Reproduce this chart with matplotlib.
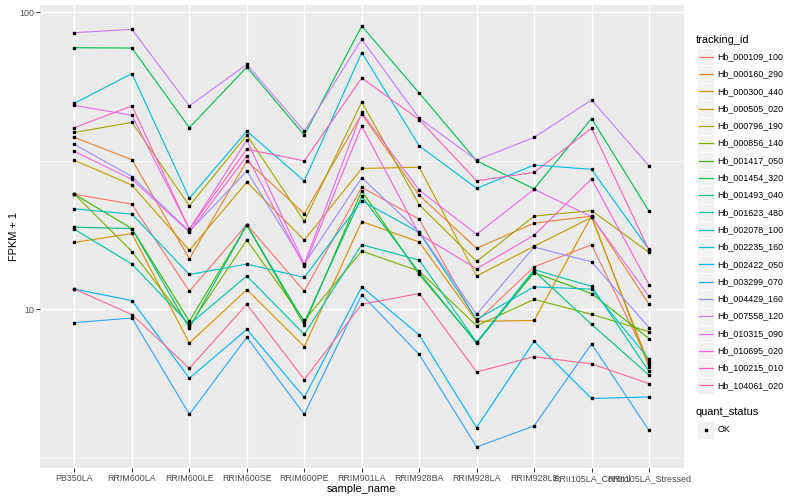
import numpy as np
import matplotlib
matplotlib.use("Agg")
import matplotlib.pyplot as plt
from matplotlib.ticker import FixedLocator, NullFormatter, FixedFormatter
from matplotlib.patches import Rectangle

plt.rcParams['font.family'] = ['Liberation Sans', 'DejaVu Sans']

samples = ["PB350LA", "RRIM600LA", "RRIM600LE", "RRIM600SE", "RRIM600PE",
           "RRIM901LA", "RRIM928BA", "RRIM928LA", "RRIM928LE",
           "RRII105LA_Control", "RRII105LA_Stressed"]

tracking_ids = ["Hb_000109_100", "Hb_000160_290", "Hb_000300_440", "Hb_000505_020",
                "Hb_000796_190", "Hb_000856_140", "Hb_001417_050", "Hb_001454_320",
                "Hb_001493_040", "Hb_001623_480", "Hb_002078_100", "Hb_002235_160",
                "Hb_002422_050", "Hb_003299_070", "Hb_004429_160", "Hb_007558_120",
                "Hb_010315_090", "Hb_010695_020", "Hb_100215_010", "Hb_104061_020"]

colors = ["#F8766D", "#EA8331", "#D89000", "#C09B00", "#A3A500", "#7CAE00",
          "#39B600", "#00BB4E", "#00BF7D", "#00C1A3", "#00BFC4", "#00BAE0",
          "#00B0F6", "#35A2FF", "#9590FF", "#C77CFF", "#E76BF3", "#FA62DB",
          "#FF62BC", "#FF6C91"]

# FPKM + 1 values per tracking_id, in sample order
Hb_000109_100 = [24.4, 22.6, 11.5, 19.3, 11.5, 25.75, 20.1, 9.11, 13.9, 16.5, 6.63]
Hb_000160_290 = [37.9, 31.9, 14.8, 31.6, 21.0, 45.4, 24.2, 16.05, 19.5, 20.6, 10.4]
Hb_000300_440 = [16.8, 18.0, 7.7, 11.65, 7.49, 19.75, 16.85, 9.11, 9.17, 20.6, 6.38]
Hb_000505_020 = [31.75, 26.2, 15.8, 26.8, 17.1, 29.8, 30.1, 12.95, 16.3, 20.4, 6.53]
Hb_000796_190 = [39.4, 42.6, 22.3, 38.6, 19.8, 49.9, 22.5, 14.5, 20.6, 21.5, 15.55]
Hb_000856_140 = [24.4, 15.65, 8.78, 17.1, 9.17, 15.7, 13.45, 8.8, 10.8, 9.62, 8.41]
Hb_001417_050 = [24.4, 18.7, 9.11, 19.2, 8.85, 25.05, 13.1, 7.74, 13.3, 11.3, 7.97]
Hb_001454_320 = [76.0, 75.8, 40.9, 65.4, 38.6, 89.9, 53.5, 31.6, 25.45, 43.9, 21.4]
Hb_001493_040 = [18.9, 18.7, 8.64, 19.25, 9.04, 24.0, 13.3, 7.68, 13.45, 8.9, 6.0]
Hb_001623_480 = [18.6, 14.2, 8.9, 12.95, 8.24, 16.5, 14.65, 7.74, 13.6, 11.95, 6.18]
Hb_002078_100 = [21.8, 20.9, 13.1, 14.2, 12.8, 23.2, 18.15, 9.25, 11.9, 11.7, 6.79]
Hb_002235_160 = [49.4, 62.2, 23.65, 39.8, 27.05, 73.2, 35.5, 25.55, 30.6, 29.6, 15.9]
Hb_002422_050 = [11.7, 10.7, 5.86, 8.56, 5.05, 11.9, 8.2, 4.0, 7.8, 5.01, 5.07]
Hb_003299_070 = [9.02, 9.35, 4.43, 8.05, 4.43, 11.2, 7.05, 3.44, 4.05, 7.65, 3.91]
Hb_004429_160 = [35.9, 28.0, 18.3, 29.2, 14.2, 27.75, 18.2, 9.62, 16.2, 14.45, 8.68]
Hb_007558_120 = [85.4, 87.6, 48.4, 66.8, 39.8, 81.1, 44.0, 31.8, 37.9, 50.7, 30.4]
Hb_010315_090 = [48.6, 45.0, 18.6, 37.1, 14.2, 46.0, 25.2, 17.9, 25.35, 20.5, 11.06]
Hb_010695_020 = [34.0, 27.4, 18.2, 32.8, 13.95, 41.4, 17.9, 13.7, 17.75, 27.5, 12.1]
Hb_100215_010 = [40.9, 48.4, 18.6, 34.6, 31.6, 60.1, 43.5, 27.1, 28.9, 40.7, 15.8]
Hb_104061_020 = [11.7, 9.6, 6.33, 10.4, 5.8, 10.4, 11.3, 6.15, 6.93, 6.55, 5.62]

series = [Hb_000109_100, Hb_000160_290, Hb_000300_440, Hb_000505_020, Hb_000796_190,
          Hb_000856_140, Hb_001417_050, Hb_001454_320, Hb_001493_040, Hb_001623_480,
          Hb_002078_100, Hb_002235_160, Hb_002422_050, Hb_003299_070, Hb_004429_160,
          Hb_007558_120, Hb_010315_090, Hb_010695_020, Hb_100215_010, Hb_104061_020]

quant_status = ["OK"]

W, H = 800, 500
fig = plt.figure(figsize=(W / 100, H / 100), dpi=100)
fig.patch.set_facecolor("white")
pl, pr, pt, pb = 40, 683.5, 5, 468
ax = fig.add_axes([pl / W, 1 - pb / H, (pr - pl) / W, (pb - pt) / H])
ax.set_facecolor("#EBEBEB")
for s in ax.spines.values():
    s.set_visible(False)

x = np.arange(1, len(samples) + 1)
for vals, col in zip(series, colors):
    ax.plot(x, vals, color=col, lw=0.8, zorder=3, solid_capstyle="butt")
for vals in series:
    ax.plot(x, vals, ls="none", marker="s", ms=2.1, color="black", zorder=4)

ax.set_yscale("log")
allv = np.log10(np.concatenate([np.array(v) for v in series]))
lo, hi = allv.min(), allv.max()
ex = 0.05 * (hi - lo)
ax.set_ylim(10 ** (lo - ex), 10 ** (hi + ex))
ax.set_xlim(0.4, len(samples) + 0.6)

ax.yaxis.set_major_locator(FixedLocator([10, 100]))
ax.yaxis.set_major_formatter(FixedFormatter(["10", "100"]))
ax.yaxis.set_minor_locator(FixedLocator([10 ** 0.5, 10 ** 1.5]))
ax.yaxis.set_minor_formatter(NullFormatter())
ax.set_xticks(x)
ax.set_xticklabels(samples)
ax.tick_params(axis="both", which="major", length=2.8, width=0.7, color="#333333",
               labelcolor="#4D4D4D", labelsize=6.4, pad=1.5)
ax.tick_params(axis="y", which="minor", length=0)
ax.grid(which="major", color="white", lw=1.0, zorder=0)
ax.grid(which="minor", axis="y", color="white", lw=0.5, zorder=0)
ax.set_axisbelow(True)

ax.set_xlabel("sample_name", fontsize=7.9, labelpad=1)
ax.set_ylabel("FPKM + 1", fontsize=7.9, labelpad=0)

# legend drawn in pixel coordinates
lg = fig.add_axes([0, 0, 1, 1])
lg.set_xlim(0, W)
lg.set_ylim(H, 0)
lg.axis("off")
lg.text(696, 40, "tracking_id", fontsize=7.9, va="center", ha="left")
ks = 17.3
y0 = 56.7
for i, (tid, col) in enumerate(zip(tracking_ids, colors)):
    yc = y0 + i * ks
    lg.add_patch(Rectangle((697, yc - ks / 2), ks, ks, facecolor="#F2F2F2",
                           edgecolor="white", lw=0.7))
    lg.plot([698.5, 697 + ks - 1.5], [yc, yc], color=col, lw=0.9)
    lg.text(717.5, yc, tid, fontsize=6.4, va="center", ha="left")
lg.text(696, 412, "quant_status", fontsize=7.9, va="center", ha="left")
yq = 430
lg.add_patch(Rectangle((697, yq - ks / 2), ks, ks, facecolor="#F2F2F2",
                       edgecolor="white", lw=0.7))
lg.plot([697 + ks / 2], [yq], marker="s", ms=2.1, color="black")
lg.text(717.5, yq, quant_status[0], fontsize=6.4, va="center", ha="left")

fig.savefig("out.png", dpi=100)
